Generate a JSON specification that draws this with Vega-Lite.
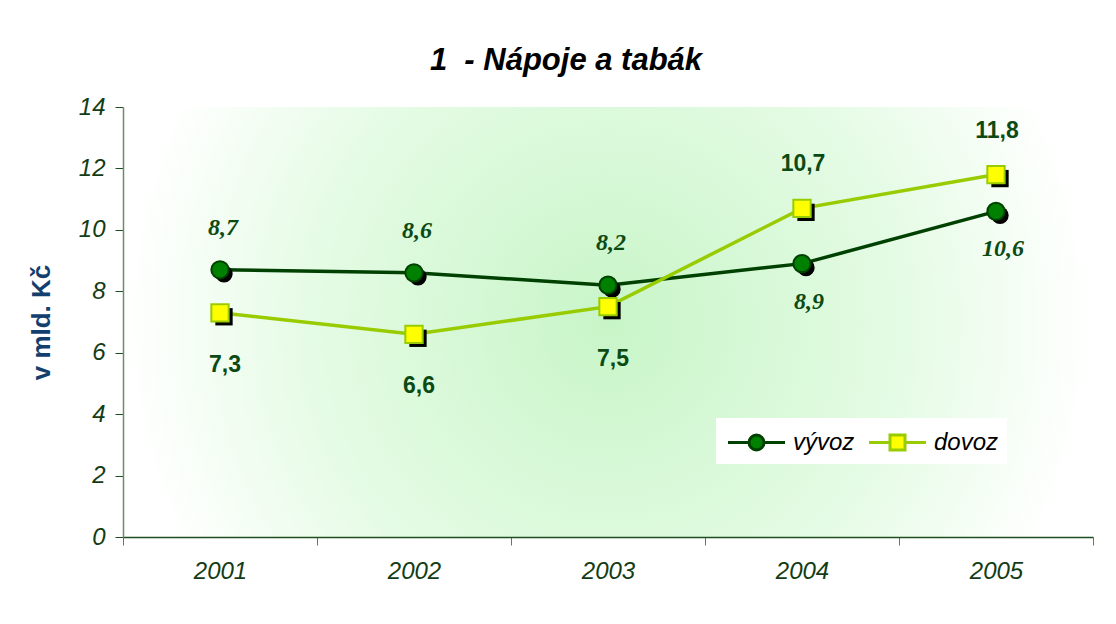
{
  "$schema": "https://vega.github.io/schema/vega-lite/v6.json",
  "autosize": {"type": "none"},
  "width": 970,
  "height": 430,
  "padding": {"left": 123, "top": 107, "right": 23, "bottom": 87},
  "background": "#ffffff",
  "title": {
    "text": "1\u00a0 - Nápoje a tabák",
    "font": "Liberation Sans",
    "fontSize": 31,
    "fontWeight": "bold",
    "fontStyle": "italic",
    "color": "#000000",
    "anchor": "middle",
    "dx": -42,
    "offset": 18
  },
  "data": {
    "values": [
      {"rok": "2001", "vývoz": 8.7, "dovoz": 7.3},
      {"rok": "2002", "vývoz": 8.6, "dovoz": 6.6},
      {"rok": "2003", "vývoz": 8.2, "dovoz": 7.5},
      {"rok": "2004", "vývoz": 8.9, "dovoz": 10.7},
      {"rok": "2005", "vývoz": 10.6, "dovoz": 11.8}
    ]
  },
  "encoding": {
    "x": {
      "field": "rok",
      "type": "ordinal",
      "scale": {"type": "band", "paddingInner": 0, "paddingOuter": 0},
      "axis": {
        "title": null,
        "labelAngle": 0,
        "labelFont": "Liberation Sans",
        "labelFontSize": 24,
        "labelFontStyle": "italic",
        "labelColor": "#143c14",
        "labelPadding": 14,
        "tickBand": "extent",
        "tickSize": 8,
        "tickColor": "#5d7d5d",
        "domainColor": "#1f4f1f",
        "domainWidth": 1.5,
        "grid": false
      }
    }
  },
  "layer": [
    {
      "transform": [{"fold": ["vývoz", "dovoz"], "as": ["serie", "hodnota"]}],
      "mark": {"type": "line", "strokeWidth": 3.5},
      "encoding": {
        "y": {
          "field": "hodnota",
          "type": "quantitative",
          "scale": {"domain": [0, 14]},
          "axis": {
            "title": "v mld. Kč",
            "titleFont": "Liberation Sans",
            "titleFontSize": 26,
            "titleFontWeight": "bold",
            "titleColor": "#123f6e",
            "titlePadding": 24,
            "values": [0, 2, 4, 6, 8, 10, 12, 14],
            "labelFont": "Liberation Sans",
            "labelFontSize": 24,
            "labelFontStyle": "italic",
            "labelColor": "#143c14",
            "labelPadding": 10,
            "tickSize": 8,
            "tickColor": "#1f4f1f",
            "domainColor": "#6b8a6b",
            "domainWidth": 1.5,
            "grid": false
          }
        },
        "color": {
          "field": "serie",
          "type": "nominal",
          "scale": {"domain": ["vývoz", "dovoz"], "range": ["#004000", "#99cc00"]},
          "legend": {
            "title": null,
            "orient": "none",
            "legendX": 593,
            "legendY": 311,
            "direction": "horizontal",
            "fillColor": "#ffffff",
            "padding": 8,
            "symbolSize": 900,
            "symbolOffset": 16,
            "symbolStrokeWidth": 3,
            "labelOffset": 20,
            "columnPadding": 8,
            "labelFont": "Liberation Sans",
            "labelFontSize": 24,
            "labelFontStyle": "italic",
            "labelColor": "#000000",
            "encode": {
              "symbols": {
                "update": {
                  "shape": {"signal": "datum.value === 'vývoz' ? 'M-1.9,0L-0.5,0M0.5,0L1.9,0M0.5,0A0.5,0.5 0 1,1 -0.5,0A0.5,0.5 0 1,1 0.5,0Z' : 'M-1.9,0L-0.5,0M0.5,0L1.9,0M-0.5,-0.5L0.5,-0.5L0.5,0.5L-0.5,0.5Z'"},
                  "fill": {"signal": "datum.value === 'vývoz' ? '#008000' : '#ffff00'"},
                  "opacity": {"value": 1}
                }
              }
            }
          }
        }
      }
    },
    {
      "mark": {"type": "point", "shape": "circle", "filled": true, "size": 300, "xOffset": 4, "yOffset": 4, "opacity": 1, "fill": "#000000"},
      "encoding": {"y": {"field": "vývoz", "type": "quantitative"}}
    },
    {
      "mark": {"type": "point", "shape": "square", "filled": true, "size": 300, "xOffset": 4, "yOffset": 4, "opacity": 1, "fill": "#000000"},
      "encoding": {"y": {"field": "dovoz", "type": "quantitative"}}
    },
    {
      "mark": {"type": "point", "shape": "circle", "filled": true, "size": 300, "strokeWidth": 2, "opacity": 1, "fill": "#008000", "stroke": "#004000"},
      "encoding": {"y": {"field": "vývoz", "type": "quantitative"}}
    },
    {
      "mark": {"type": "point", "shape": "square", "filled": true, "size": 300, "strokeWidth": 2, "opacity": 1, "fill": "#ffff00", "stroke": "#99cc00"},
      "encoding": {"y": {"field": "dovoz", "type": "quantitative"}}
    },
    {
      "transform": [{"filter": "datum['vývoz'] > datum['dovoz']"}],
      "mark": {"type": "text", "font": "Liberation Serif", "fontSize": 24, "fontWeight": "bold", "fontStyle": "italic", "color": "#0b4a12", "dy": -42, "dx": 3, "baseline": "middle"},
      "encoding": {
        "y": {"field": "vývoz", "type": "quantitative"},
        "text": {"field": "vývoz", "type": "quantitative", "format": ".1f"}
      }
    },
    {
      "transform": [{"filter": "datum['vývoz'] <= datum['dovoz']"}],
      "mark": {"type": "text", "font": "Liberation Serif", "fontSize": 24, "fontWeight": "bold", "fontStyle": "italic", "color": "#0b4a12", "dy": 38, "dx": 7, "baseline": "middle"},
      "encoding": {
        "y": {"field": "vývoz", "type": "quantitative"},
        "text": {"field": "vývoz", "type": "quantitative", "format": ".1f"}
      }
    },
    {
      "transform": [{"filter": "datum['dovoz'] < datum['vývoz']"}],
      "mark": {"type": "text", "font": "Liberation Sans", "fontSize": 23, "fontWeight": "bold", "color": "#0b4a12", "dy": 52, "dx": 5, "baseline": "middle"},
      "encoding": {
        "y": {"field": "dovoz", "type": "quantitative"},
        "text": {"field": "dovoz", "type": "quantitative", "format": ".1f"}
      }
    },
    {
      "transform": [{"filter": "datum['dovoz'] >= datum['vývoz']"}],
      "mark": {"type": "text", "font": "Liberation Sans", "fontSize": 23, "fontWeight": "bold", "color": "#0b4a12", "dy": -44, "dx": 1, "baseline": "middle"},
      "encoding": {
        "y": {"field": "dovoz", "type": "quantitative"},
        "text": {"field": "dovoz", "type": "quantitative", "format": ".1f"}
      }
    }
  ],
  "config": {
    "locale": {"number": {"decimal": ",", "thousands": "\u00a0", "grouping": [3], "currency": ["", "\u00a0Kč"]}},
    "view": {
      "stroke": null,
      "fill": {
        "gradient": "radial",
        "x1": 0.5, "y1": 0.5, "r1": 0,
        "x2": 0.5, "y2": 0.5, "r2": 0.5,
        "stops": [
          {"offset": 0, "color": "#c8f5c8"},
          {"offset": 0.6, "color": "#e4fbe4"},
          {"offset": 1, "color": "#ffffff"}
        ]
      }
    }
  }
}
